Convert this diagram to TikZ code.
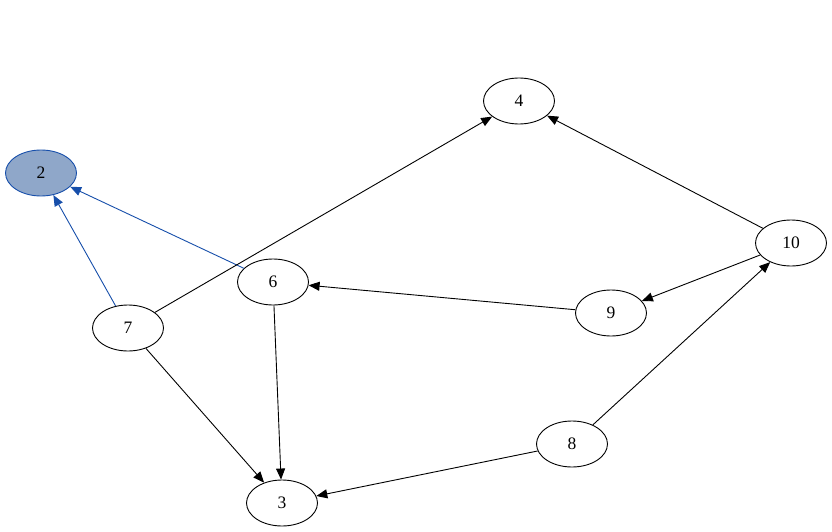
\documentclass[tikz,border=0pt]{standalone}
\usepackage{fontspec}
\setmainfont{Liberation Serif}
\usetikzlibrary{shapes.geometric,arrows.meta}
\definecolor{nfill}{RGB}{143,167,201}
\definecolor{nblue}{RGB}{22,78,170}
\begin{document}
\begin{tikzpicture}[x=1pt,y=-1pt,
  nd/.style={ellipse,draw=black,line width=0.9pt,minimum width=71pt,minimum height=46pt,inner sep=0pt,font=\fontsize{17.5}{19}\selectfont},
  hl/.style={nd,draw=nblue,fill=nfill},
  ed/.style={line width=0.9pt,-{Triangle[length=11pt,width=9pt]}},
  be/.style={ed,draw=nblue,-{Triangle[length=11pt,width=9pt,fill=nblue]}}]
\useasboundingbox (0,0) rectangle (832,532);
\node[hl] (n2) at (41,173) {2};
\node[nd] (n4) at (519,101) {4};
\node[nd] (n6) at (273,282) {6};
\node[nd] (n7) at (128,328) {7};
\node[nd] (n10) at (791,243) {10};
\node[nd] (n9) at (611,313) {9};
\node[nd] (n8) at (572,444) {8};
\node[nd] (n3) at (282,503) {3};
\draw[be] (n6) -- (n2);
\draw[be] (n7) -- (n2);
\draw[ed] (n7) -- (n4);
\draw[ed] (n10) -- (n4);
\draw[ed] (n10) -- (n9);
\draw[ed] (n9) -- (n6);
\draw[ed] (n8) -- (n10);
\draw[ed] (n8) -- (n3);
\draw[ed] (n6) -- (n3);
\draw[ed] (n7) -- (n3);
\end{tikzpicture}
\end{document}
